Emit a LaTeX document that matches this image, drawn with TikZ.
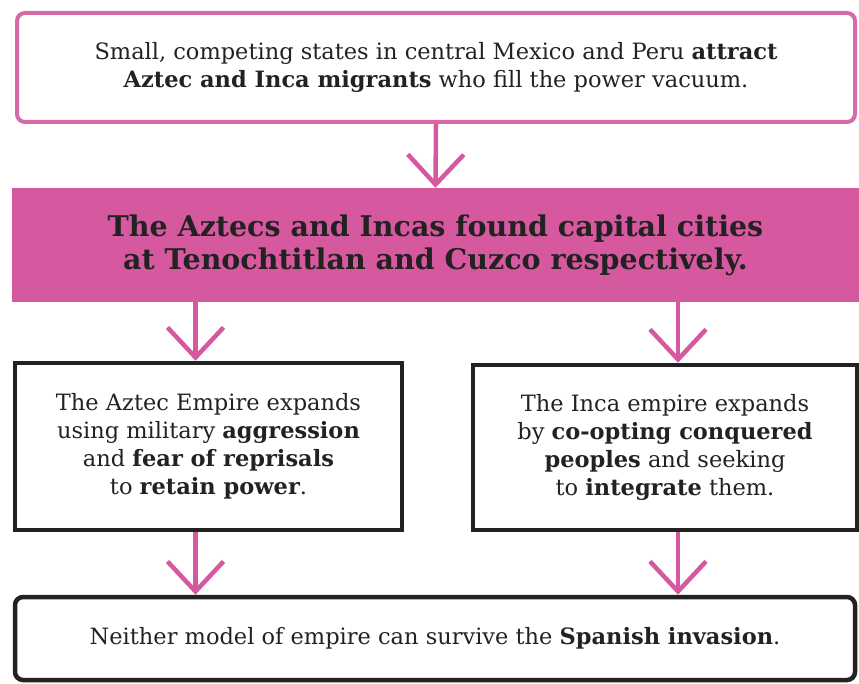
\documentclass[tikz,border=0pt]{standalone}
\usepackage{fontspec}
\setmainfont{DejaVu Serif}
\usetikzlibrary{arrows.meta, positioning}
\definecolor{empink}{HTML}{D6589E}
\definecolor{boxpink}{HTML}{D46AA6}
\definecolor{inkgrey}{HTML}{222222}
\newcommand{\bodyfont}{\fontsize{22.5}{28}\selectfont}

\begin{document}
\begin{tikzpicture}[x=1pt, y=-1pt,
    pinkbox/.style={draw=boxpink, line width=4pt, rounded corners=8pt, align=center, text=inkgrey, font=\bodyfont},
    inkbox/.style={draw=inkgrey, line width=4.5pt, align=center, text=inkgrey, font=\bodyfont},
    band/.style={fill=empink, align=center, text=inkgrey, font=\fontsize{28.5}{33}\selectfont\bfseries},
    pinkarrow/.style={draw=empink, line width=4.5pt, -{Straight Barb[length=30pt, width=56pt, line width=4.5pt]}}]
    \useasboundingbox (0,0) rectangle (859,684);

    \node[pinkbox, minimum width=838, minimum height=109] (origins) at (436,67.5)
        {Small, competing states in central Mexico and Peru \textbf{attract}\\ \textbf{Aztec and Inca migrants} who fill the power vacuum.};

    \node[band, minimum width=847, minimum height=114] (capitals) at (435.5,245)
        {The Aztecs and Incas found capital cities\\ at Tenochtitlan and Cuzco respectively.};

    \node[inkbox, minimum width=387, minimum height=167] (aztec) at (208.5,446.5)
        {The Aztec Empire expands\\ using military \textbf{aggression}\\ and \textbf{fear of reprisals}\\ to \textbf{retain power}.};

    \node[inkbox, minimum width=384, minimum height=165] (inca) at (665,447.5)
        {The Inca empire expands\\ by \textbf{co-opting conquered}\\ \textbf{peoples} and seeking\\ to \textbf{integrate} them.};

    \node[inkbox, rounded corners=8pt, minimum width=840, minimum height=83] (fall) at (435,638.5)
        {Neither model of empire can survive the \textbf{Spanish invasion}.};

    \draw[pinkarrow] (origins.south) -- (capitals.north);
    \draw[pinkarrow] ([xshift=-13]aztec.north |- capitals.south) -- ([xshift=-13]aztec.north);
    \draw[pinkarrow] ([xshift=13]inca.north |- capitals.south) -- ([xshift=13]inca.north);
    \draw[pinkarrow] ([xshift=-13]aztec.south) -- ([xshift=-13]aztec.south |- fall.north);
    \draw[pinkarrow] ([xshift=13]inca.south) -- ([xshift=13]inca.south |- fall.north);
\end{tikzpicture}
\end{document}
